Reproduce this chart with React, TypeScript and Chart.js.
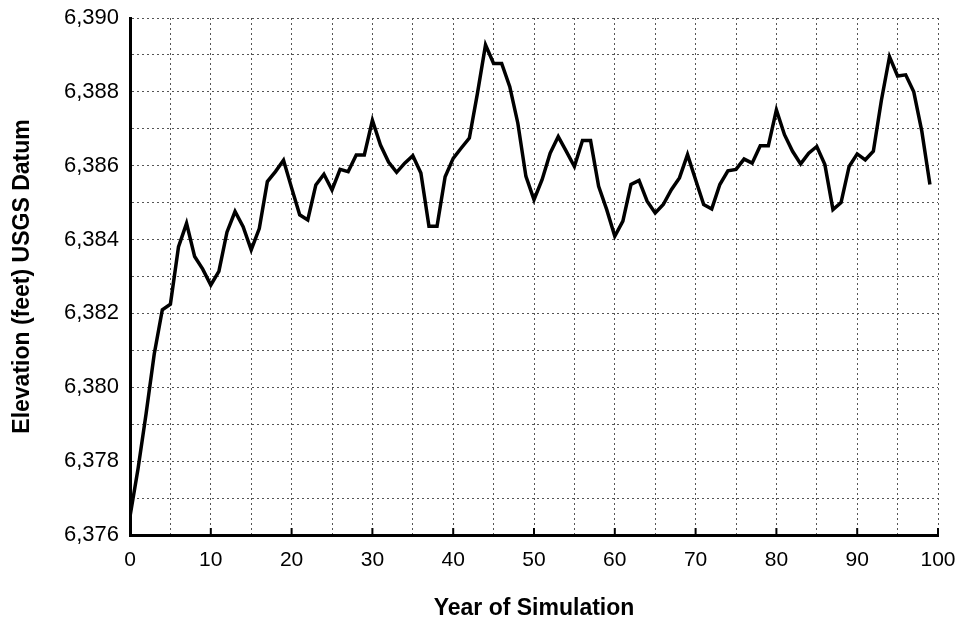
import React, { useEffect, useRef } from "react";
import { Chart, registerables } from "chart.js";

Chart.register(...registerables);

const years: number[] = Array.from({ length: 100 }, (_, i) => i);

const elevation: number[] = [
  6376.5, 6377.8, 6379.3, 6380.9, 6382.1, 6382.25, 6383.8, 6384.44, 6383.54, 6383.2,
  6382.77, 6383.14, 6384.2, 6384.76, 6384.35, 6383.72, 6384.3, 6385.57, 6385.84, 6386.15,
  6385.4, 6384.67, 6384.53, 6385.48, 6385.77, 6385.34, 6385.9, 6385.84, 6386.29, 6386.29,
  6387.23, 6386.56, 6386.1, 6385.82, 6386.07, 6386.27, 6385.8, 6384.36, 6384.36, 6385.7,
  6386.2, 6386.48, 6386.75, 6387.96, 6389.27, 6388.77, 6388.77, 6388.14, 6387.15, 6385.71,
  6385.08, 6385.62, 6386.34, 6386.79, 6386.39, 6385.98, 6386.68, 6386.68, 6385.44, 6384.81,
  6384.09, 6384.5, 6385.49, 6385.6, 6385.04, 6384.72, 6384.95, 6385.35, 6385.67, 6386.3,
  6385.62, 6384.95, 6384.83, 6385.49, 6385.86, 6385.9, 6386.18, 6386.07, 6386.54, 6386.54,
  6387.51, 6386.84, 6386.39, 6386.05, 6386.34, 6386.52, 6386.03, 6384.81, 6385.0, 6385.98,
  6386.32, 6386.16, 6386.39, 6387.78, 6388.95, 6388.43, 6388.46, 6388.0, 6386.93, 6385.49,
];

const yTickLabels: Record<number, string> = {
  6376: "6,376",
  6378: "6,378",
  6380: "6,380",
  6382: "6,382",
  6384: "6,384",
  6386: "6,386",
  6388: "6,388",
  6390: "6,390",
};

const xTickLabels: number[] = [0, 10, 20, 30, 40, 50, 60, 70, 80, 90, 100];

const FONT = "'Liberation Sans', Arial, Helvetica, sans-serif";

const innerTicks = {
  id: "innerTicks",
  afterDatasetsDraw(chart: any) {
    const { ctx, scales } = chart;
    const xs = scales.x;
    const bottom = chart.chartArea.bottom;
    ctx.save();
    ctx.strokeStyle = "#000";
    ctx.lineWidth = 2;
    xTickLabels.forEach((v) => {
      if (v === 0) return;
      const px = xs.getPixelForValue(v);
      ctx.beginPath();
      ctx.moveTo(px, bottom);
      ctx.lineTo(px, bottom - 7);
      ctx.stroke();
    });
    ctx.restore();
  },
};

export default function App() {
  const ref = useRef<HTMLCanvasElement | null>(null);

  useEffect(() => {
    if (!ref.current) return;
    const chart = new Chart(ref.current, {
      type: "line",
      data: {
        datasets: [
          {
            data: years.map((x, i) => ({ x, y: elevation[i] })),
            borderColor: "#000",
            borderWidth: 3.5,
            pointRadius: 0,
            tension: 0,
            fill: false,
          },
        ],
      },
      options: {
        animation: false,
        responsive: false,
        maintainAspectRatio: false,
        layout: { padding: { left: 0, right: 26, top: 18, bottom: 0 } },
        plugins: {
          legend: { display: false },
          tooltip: { enabled: false },
        },
        scales: {
          x: {
            type: "linear",
            min: 0,
            max: 100,
            afterFit: (s: any) => {
              s.height = 85;
              s.paddingLeft = 0;
              s.paddingRight = 0;
            },
            ticks: {
              stepSize: 5,
              autoSkip: false,
              maxRotation: 0,
              padding: 13,
              color: "#000",
              font: { family: FONT, size: 21 },
              callback: (v: any) => (xTickLabels.includes(Number(v)) ? String(v) : ""),
            },
            grid: {
              color: "#555",
              lineWidth: 1,
              drawTicks: false,
            },
            border: { display: true, color: "#000", width: 3, dash: [2, 3] },
            title: {
              display: true,
              text: "Year of Simulation",
              color: "#000",
              font: { family: FONT, size: 23, weight: "bold", lineHeight: 1 },
              padding: { top: 0, bottom: 0 },
            },
          },
          y: {
            type: "linear",
            min: 6376,
            max: 6390,
            afterFit: (s: any) => {
              s.width = 130;
              s.paddingTop = 0;
              s.paddingBottom = 0;
            },
            ticks: {
              stepSize: 1,
              autoSkip: false,
              padding: 11,
              color: "#000",
              font: { family: FONT, size: 22 },
              callback: (v: any) => yTickLabels[Number(v)] ?? "",
            },
            grid: {
              color: "#555",
              lineWidth: 1,
              drawTicks: false,
            },
            border: { display: true, color: "#000", width: 3, dash: [2, 3] },
            title: {
              display: true,
              text: "Elevation (feet) USGS Datum",
              color: "#000",
              font: { family: FONT, size: 23, weight: "bold", lineHeight: 1.2 },
              padding: { top: 9, bottom: 0 },
            },
          },
        },
      },
      plugins: [innerTicks],
    });
    return () => chart.destroy();
  }, []);

  return (
    <div style={{ position: "fixed", left: 0, top: 0, width: 964, height: 620, background: "#fff" }}>
      <canvas ref={ref} width={964} height={620} style={{ width: 964, height: 620 }} />
    </div>
  );
}
